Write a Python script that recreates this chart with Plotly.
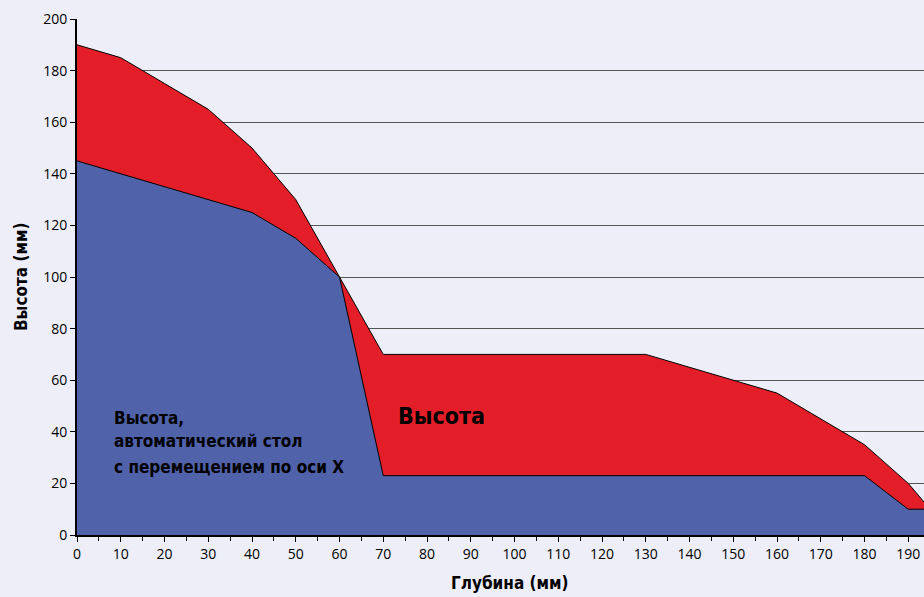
import plotly.graph_objects as go

depth_red = [0, 10, 20, 30, 40, 50, 60, 70, 130, 160, 180, 190, 195, 200]
height_red = [190, 185, 175, 165, 150, 130, 100, 70, 70, 55, 35, 20, 10, 10]

depth_blue = [0, 10, 20, 30, 40, 50, 60, 70, 180, 190, 200]
height_blue = [145, 140, 135, 130, 125, 115, 100, 23, 23, 10, 10]

x_ticks = list(range(0, 200, 10))
y_ticks = list(range(0, 201, 20))

label_lines = ["Высота,", "автоматический стол", "с перемещением по оси X"]
label_y = [45.4, 36.4, 26.4]

BG = "#EDEEF8"
RED = "#E31E28"
BLUE = "#5062AA"
COND = "DejaVu Sans Condensed"
TICKF = "Open Sans"

fig = go.Figure()
fig.add_trace(go.Scatter(x=depth_red, y=height_red, mode="lines", fill="tozeroy",
                         fillcolor=RED, line=dict(color="black", width=1),
                         hoverinfo="skip", showlegend=False))
fig.add_trace(go.Scatter(x=depth_blue, y=height_blue, mode="lines", fill="tozeroy",
                         fillcolor=BLUE, line=dict(color="black", width=1),
                         hoverinfo="skip", showlegend=False))

for txt, yy in zip(label_lines, label_y):
    fig.add_annotation(x=7.9, y=yy, xref="x", yref="y", xanchor="left", yanchor="middle",
                       text="<b>" + txt + "</b>", showarrow=False, align="left",
                       font=dict(family=COND, size=17, color="black"))
fig.add_annotation(x=73.0, y=46, xref="x", yref="y", xanchor="left", yanchor="middle",
                   text="<b>Высота</b>", showarrow=False,
                   font=dict(family=COND, size=23, color="black"))

# axis titles
fig.add_annotation(x=0.511, y=-0.093, xref="paper", yref="paper", xanchor="center", yanchor="middle",
                   text="<b>Глубина (мм)</b>", showarrow=False,
                   font=dict(family=COND, size=17, color="black"))
fig.add_annotation(x=-0.066, y=0.5, xref="paper", yref="paper", xanchor="center", yanchor="middle",
                   text="<b>Высота (мм)</b>", showarrow=False, textangle=-90,
                   font=dict(family=COND, size=17, color="black"))

fig.update_layout(
    width=924, height=597,
    margin=dict(l=77, r=0, t=19, b=62),
    paper_bgcolor=BG, plot_bgcolor=BG,
    xaxis=dict(range=[0, 193.6], tickvals=x_ticks, showgrid=False, zeroline=False,
               showline=True, linecolor="black", linewidth=2,
               ticks="outside", ticklen=5, tickcolor="black", tickwidth=1,
               minor=dict(dtick=5, tick0=0, ticks="outside", ticklen=4, tickcolor="black", showgrid=False),
               tickfont=dict(family=TICKF, size=14, color="black")),
    yaxis=dict(range=[0, 200], tickvals=y_ticks, showgrid=True, gridcolor="#555555", gridwidth=1,
               zeroline=False, showline=True, linecolor="black", linewidth=2,
               ticks="outside", ticklen=5, tickcolor="black",
               tickfont=dict(family=TICKF, size=14, color="black")),
)

fig.write_html("out.html", config={"displayModeBar": False})
with open("out.html", encoding="utf-8") as f:
    html = f.read()
html = html.replace("<body>", '<body style="margin:0;padding:0;overflow:hidden">', 1)
with open("out.html", "w", encoding="utf-8") as f:
    f.write(html)
